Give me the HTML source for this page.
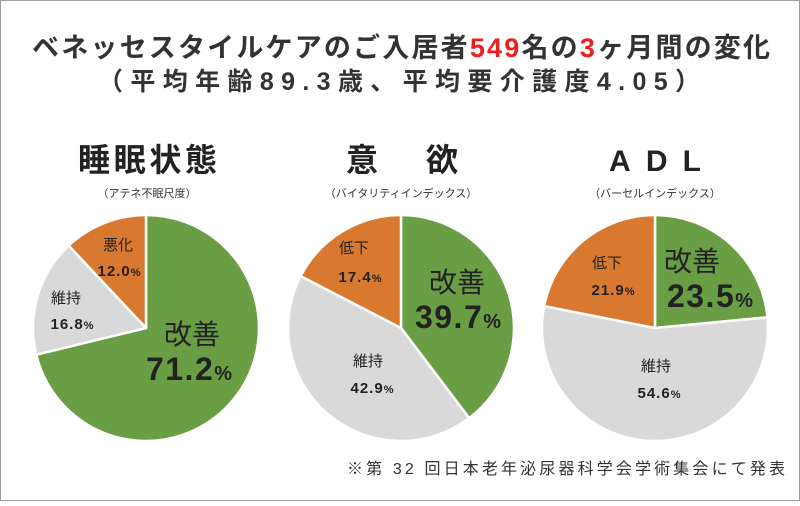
<!DOCTYPE html>
<html><head><meta charset="utf-8">
<style>
html,body{margin:0;padding:0;background:#fff;}
body{width:800px;height:501px;overflow:hidden;}
svg text{font-family:"Liberation Sans","Noto Sans CJK JP",sans-serif;}
</style></head>
<body>
<svg id="s" width="800" height="501" viewBox="0 0 800 501" xmlns="http://www.w3.org/2000/svg">
<rect x="0.5" y="0.5" width="799" height="500" fill="#fff" stroke="#a0a0a0"/>
<text x="32" y="57" textLength="738" lengthAdjust="spacing" font-size="27" font-weight="bold" fill="#333">ベネッセスタイルケアのご入居者<tspan fill="#e8211e">549</tspan>名の<tspan fill="#e8211e">3</tspan>ヶ月間の変化</text>
<text x="98" y="90" textLength="602" lengthAdjust="spacing" font-size="25" font-weight="bold" fill="#333">（平均年齢89.3歳、平均要介護度4.05）</text>
<text x="78" y="171" textLength="139" lengthAdjust="spacing" font-size="32" font-weight="bold" fill="#222">睡眠状態</text>
<text x="346" y="171" textLength="112" lengthAdjust="spacing" font-size="32" font-weight="bold" fill="#222">意　欲</text>
<text x="609" y="171" textLength="92" lengthAdjust="spacing" font-size="30" font-weight="bold" fill="#222">ADL</text>
<text x="147" y="197" text-anchor="middle" font-size="11" fill="#333">（アテネ不眠尺度）</text>
<text x="401" y="197" text-anchor="middle" font-size="11" fill="#333">（バイタリティインデックス）</text>
<text x="655" y="197" text-anchor="middle" font-size="11" fill="#333">（バーセルインデックス）</text>
<g id="pies"></g>
<g fill="#222">
<text x="192" y="344" text-anchor="middle" font-size="28">改善</text>
<text x="189" y="380" text-anchor="middle" font-size="32" font-weight="bold" letter-spacing="1.5">71.2<tspan font-size="20" letter-spacing="0">%</tspan></text>
<text x="66" y="303" text-anchor="middle" font-size="15">維持</text>
<text x="72" y="329" text-anchor="middle" font-size="15" font-weight="bold" letter-spacing="1">16.8<tspan font-size="11" letter-spacing="0">%</tspan></text>
<text x="118" y="250" text-anchor="middle" font-size="15">悪化</text>
<text x="119" y="276" text-anchor="middle" font-size="15" font-weight="bold" letter-spacing="1">12.0<tspan font-size="11" letter-spacing="0">%</tspan></text>

<text x="354" y="253" text-anchor="middle" font-size="15">低下</text>
<text x="360" y="282" text-anchor="middle" font-size="15" font-weight="bold" letter-spacing="1">17.4<tspan font-size="11" letter-spacing="0">%</tspan></text>
<text x="457" y="292" text-anchor="middle" font-size="28">改善</text>
<text x="458" y="328" text-anchor="middle" font-size="32" font-weight="bold" letter-spacing="1.5">39.7<tspan font-size="20" letter-spacing="0">%</tspan></text>
<text x="368" y="366" text-anchor="middle" font-size="15">維持</text>
<text x="372" y="393" text-anchor="middle" font-size="15" font-weight="bold" letter-spacing="1">42.9<tspan font-size="11" letter-spacing="0">%</tspan></text>

<text x="607" y="268" text-anchor="middle" font-size="15">低下</text>
<text x="613" y="295" text-anchor="middle" font-size="15" font-weight="bold" letter-spacing="1">21.9<tspan font-size="11" letter-spacing="0">%</tspan></text>
<text x="692" y="271" text-anchor="middle" font-size="28">改善</text>
<text x="710" y="307" text-anchor="middle" font-size="32" font-weight="bold" letter-spacing="1.5">23.5<tspan font-size="20" letter-spacing="0">%</tspan></text>
<text x="656" y="371" text-anchor="middle" font-size="15">維持</text>
<text x="659" y="398" text-anchor="middle" font-size="15" font-weight="bold" letter-spacing="1">54.6<tspan font-size="11" letter-spacing="0">%</tspan></text>
</g>
<text x="347" y="474" textLength="438" lengthAdjust="spacing" font-size="16" fill="#333">※第 32 回日本老年泌尿器科学会学術集会にて発表</text>
</svg>
<script>
var G="#6a9e45",Y="#d9d9d9",O="#d9782f";
var pies=[[146,328,[[71.2,G],[16.8,Y],[12.0,O]]],[401,328,[[39.7,G],[42.9,Y],[17.4,O]]],[655,328,[[23.5,G],[54.6,Y],[21.9,O]]]];
var g=document.getElementById("pies"),h="";
pies.forEach(function(p){var cx=p[0],cy=p[1],r=113,a=0;
p[2].forEach(function(s){var a2=a+s[0]/100*2*Math.PI;
var x1=cx+r*Math.sin(a),y1=cy-r*Math.cos(a),x2=cx+r*Math.sin(a2),y2=cy-r*Math.cos(a2);
h+='<path d="M'+cx+','+cy+' L'+x1.toFixed(2)+','+y1.toFixed(2)+' A'+r+','+r+' 0 '+((a2-a)>Math.PI?1:0)+' 1 '+x2.toFixed(2)+','+y2.toFixed(2)+' Z" fill="'+s[1]+'" stroke="#fff" stroke-width="2.5" stroke-linejoin="round"/>';a=a2;});});
g.innerHTML=h;
</script>
</body></html>
